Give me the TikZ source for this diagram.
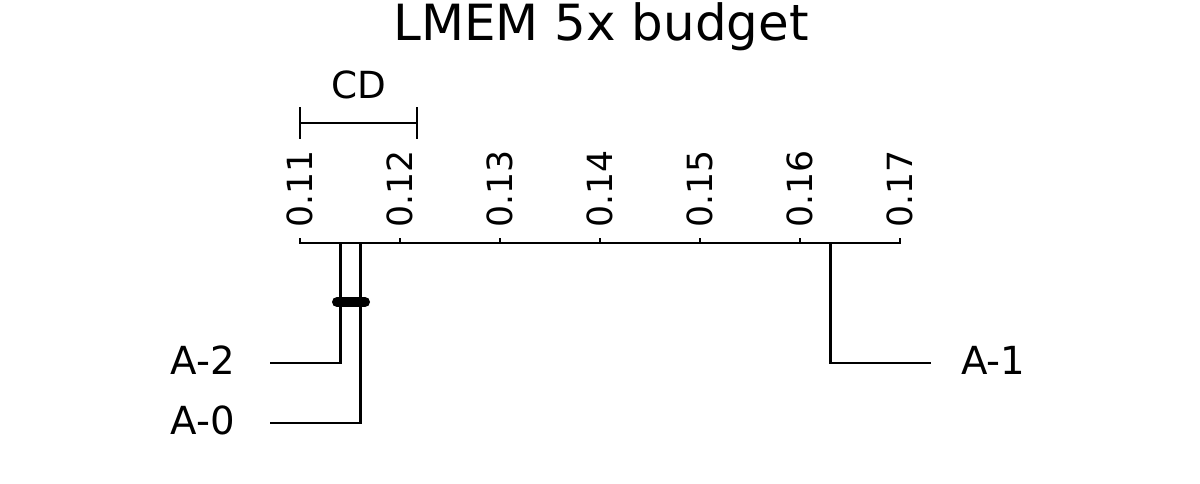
\documentclass[tikz,border=0pt]{standalone}
\usepackage{fontspec}
\setmainfont{DejaVu Sans}
\begin{document}
\begin{tikzpicture}[x=0.75pt,y=-0.75pt,
  ln/.style={line width=1.8pt, line cap=rect},
  tk/.style={line width=1.8pt},
  ticklabel/.style={rotate=90, anchor=west, inner sep=0pt, font=\fontsize{26}{26}\selectfont},
  lab/.style={inner sep=0pt, font=\fontsize{29}{29}\selectfont},
  clique/.style={line width=7.5pt, line cap=round}]
\useasboundingbox (0,0) rectangle (1200,483);
% title
\node[inner sep=0pt, anchor=base, font=\fontsize{37.4}{37.4}\selectfont] (title) at (601,40) {LMEM 5x budget};
% axis
\coordinate (axL) at (300,243);
\coordinate (axR) at (900,243);
\draw[ln] (axL) -- (axR);
\foreach \i/\t in {0/0.11,1/0.12,2/0.13,3/0.14,4/0.15,5/0.16,6/0.17}{
  \coordinate (tick\i) at ({300+100*\i},243);
  \draw[tk] (tick\i) -- ++(0,-5);
  \node[ticklabel] (tl\i) at ({300+100*\i},228) {\t};
}
% CD
\coordinate (cdL) at (300,123);
\coordinate (cdR) at (417,123);
\draw[ln] (cdL) -- (cdR);
\draw[tk] (300,107) -- (300,139);
\draw[tk] (417,107) -- (417,139);
\node[inner sep=0pt, anchor=base, font=\fontsize{28}{28}\selectfont] (cd) at (358.5,98) {CD};
% treatments
\node[lab, anchor=base east] (a2) at (235,374) {A-2};
\node[lab, anchor=base east] (a0) at (235,434) {A-0};
\node[lab, anchor=base west] (a1) at (961,374) {A-1};
\coordinate (a2top) at (340.5,243);
\coordinate (a2corner) at (340.5,363);
\coordinate (a2end) at (270,363);
\coordinate (a0top) at (360.5,243);
\coordinate (a0corner) at (360.5,423);
\coordinate (a0end) at (270,423);
\coordinate (a1top) at (830.5,243);
\coordinate (a1corner) at (830.5,363);
\coordinate (a1end) at (931,363);
\draw[tk] (a2top) -- (a2corner) -- (a2end);
\draw[tk] (a0top) -- (a0corner) -- (a0end);
\draw[tk] (a1top) -- (a1corner) -- (a1end);
% clique
\coordinate (cqL) at (337,302);
\coordinate (cqR) at (365,302);
\draw[clique] (cqL) -- (cqR);
\end{tikzpicture}
\end{document}
